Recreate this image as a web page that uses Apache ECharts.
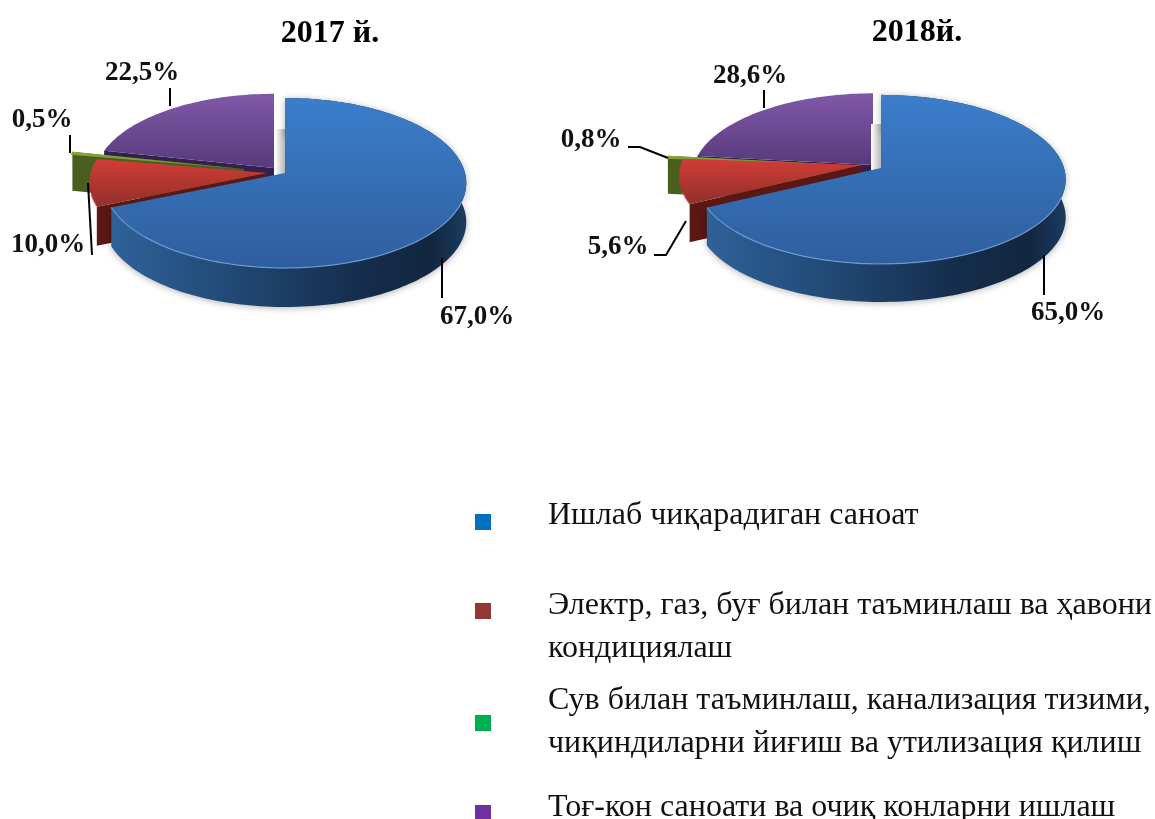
<!DOCTYPE html>
<html><head><meta charset="utf-8">
<style>html,body{margin:0;padding:0;background:#fff;overflow:hidden}#c{width:1155px;height:819px}</style>
<script src="https://cdn.jsdelivr.net/npm/echarts@6/dist/echarts.min.js"></script>
</head><body><div id="c"></div>
<script>
// ---- data ----
const categories = ['Ишлаб чиқарадиган саноат','Электр, газ, буғ билан таъминлаш ва ҳавони\nкондициялаш','Сув билан таъминлаш, канализация тизими,\nчиқиндиларни йиғиш ва утилизация қилиш','Тоғ-кон саноати ва очиқ конларни ишлаш'];
const years = ['2017 й.','2018й.'];
const values2017 = [67.0,10.0,0.5,22.5];   // printed labels
const values2018 = [65.0,5.6,0.8,28.6];
const drawn2017 = [68.6,9.2,0.6,21.6];     // slice sizes as drawn in the picture
const drawn2018 = [67.6,8.6,0.6,23.2];
const legendColors = ['#0070c0','#953735','#00b050','#7030a0'];

// ---- layout ----
const pies = [
 {drawn:drawn2017,values:values2017,R:180,Ry:83.8,k:.118,depth:39,
  apex:[[285,173],[267,173],[244,169],[274,168]],scale:[1,.98,1,.99],
  labels:[[477,317],[48,245],[42,120],[142,73]],
  leaders:[[[442,258],[442,298]],[[88,183],[92,255]],[[70,135],[70,153]],[[170,88],[170,106]]],
  title:[325,29]},
 {drawn:drawn2018,values:values2018,R:183,Ry:83,k:.135,depth:38,
  apex:[[881,168],[862,165],[847,165],[873,165]],scale:[1,.99,1,.98],
  labels:[[1068,313],[618,247],[591,140],[750,76]],
  leaders:[[[1044,255],[1044,295]],[[654,255],[666,255],[686,221]],[[628,147],[640,147],[668,158]],[[764,90],[764,108]]],
  title:[912,28]}
];
const tops=[['#3b7ecb','#2f5e9e'],['#d23c36','#90302a'],['#8aa83a','#6f8a2c'],['#8058a8','#583a7c']];
const walls=[['#2f6199','#24507f','#152d4c','#12263f','#1b3c60']];
const sideCol=['#1c3c66','#5a1714','#4a5f1e','#33204f'];
const G=echarts.graphic.LinearGradient;

function project(p,i,deg,dz){
  const t=deg*Math.PI/180,u=Math.sin(t),v=Math.cos(t),d=1+p.k*v,a=p.apex[i],s=p.scale[i];
  return [a[0]+s*p.R*u/d, a[1]-s*p.Ry*v/d+(dz||0)];
}
function arc(p,i,a,b,dz){const o=[];const n=Math.max(2,Math.ceil(Math.abs(b-a)/1.5));
  for(let j=0;j<=n;j++)o.push(project(p,i,a+(b-a)*j/n,dz));return o;}

function renderSlice(params,api){
  const pi=api.value(0),i=api.value(1),a=api.value(2),b=api.value(3),p=pies[pi];
  const ax=p.apex[i],D=p.depth,kids=[];
  const rimA=arc(p,i,a,b),rimB=arc(p,i,b,a,D);
  const side=(deg)=>{const e=project(p,i,deg);
    kids.push({type:'polygon',shape:{points:[ax,e,[e[0],e[1]+D],[ax[0],ax[1]+D]]},style:{fill:sideCol[i]}});};
  if(i===0){kids.push({type:'polygon',shape:{points:[[ax[0]-10,ax[1]-44],[ax[0],ax[1]-44],[ax[0],ax[1]+2],[ax[0]-10,ax[1]+2]]},
     style:{fill:new G(0,0,1,0,[{offset:0,color:'#ffffff'},{offset:1,color:'#b5b5b5'}])}});}
  if(i===1)side(a);
  if(i===2)side(b);
  if(i===3){side(a);side(b);}
  if(i===0){
    const w=walls[0];
    kids.push({type:'polygon',shape:{points:rimA.concat(rimB)},style:{
      fill:new G(0,0,1,0,w.map((c,j)=>({offset:[0,.25,.7,.9,1][j],color:c}))),
      shadowBlur:7,shadowColor:'rgba(0,0,0,.3)',shadowOffsetY:1}});
  }
  kids.push({type:'polygon',shape:{points:[ax].concat(rimA)},style:{
    fill:new G(0,0,0,1,[{offset:0,color:tops[i][0]},{offset:1,color:tops[i][1]}])}});
  if(i===0||i===1){kids.push({type:'polyline',shape:{points:arc(p,i,i===0?110:a,i===0?b:a+8)},
    style:{fill:'none',stroke:i===0?'rgba(120,170,230,.7)':'rgba(230,110,100,.6)',lineWidth:1.3}});}
  return {type:'group',children:kids};
}
function renderLabel(params,api){
  const pi=api.value(0),i=api.value(1),p=pies[pi],pos=p.labels[i];
  return {type:'group',children:[
    {type:'polyline',shape:{points:p.leaders[i]},style:{fill:'none',stroke:'#000',lineWidth:2}},
    {type:'text',x:pos[0],y:pos[1],style:{text:p.values[i].toFixed(1).replace('.',',')+'%',
      font:'bold 27px "Liberation Serif"',fill:'#111',align:'center',verticalAlign:'middle'}}
  ]};
}
// slice start/end angles come from the shares, clockwise from 12 o'clock
const series=[];
const drawOrder=[3,2,1,0];
pies.forEach((p,pi)=>{
  let acc=0;const rows=p.drawn.map((v,i)=>{const r=[pi,i,acc*3.6,(acc+v)*3.6];acc+=v;return r;});
  drawOrder.forEach((i,zi)=>series.push({type:'custom',name:categories[i],coordinateSystem:'none',silent:true,animation:false,z:2+zi,
    data:[rows[i]],renderItem:renderSlice}));
  series.push({type:'custom',coordinateSystem:'none',silent:true,animation:false,z:10,
    data:p.values.map((v,i)=>[pi,i,v]),renderItem:renderLabel});
});

const legendX=[475,548], legendBox=[514,603,715,805], legendText=[516,627,722.5,808];
const chart=echarts.init(document.getElementById('c'),null,{renderer:'canvas'});
chart.setOption({
  backgroundColor:'#fff',animation:false,
  title:years.map((y,i)=>({text:y,left:pies[i].title[0],top:pies[i].title[1],textAlign:'center',textVerticalAlign:'middle',
     textStyle:{fontFamily:'Liberation Serif',fontWeight:'bold',fontSize:32,color:'#000'}})),
  series:series,
  graphic:categories.flatMap((c,i)=>[
    {type:'rect',x:legendX[0],y:legendBox[i],shape:{x:0,y:0,width:16,height:16},style:{fill:legendColors[i]}},
    {type:'text',x:legendX[1],y:legendText[i],style:{text:c,font:'32px "Liberation Serif"',fill:'#111',lineHeight:43,verticalAlign:'middle'}}
  ])
});
</script></body></html>
